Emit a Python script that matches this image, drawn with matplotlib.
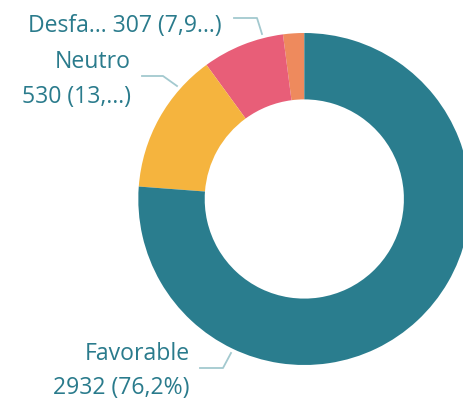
import matplotlib.pyplot as plt

# data
categories = ["Otro", "Desfavorable", "Neutro", "Favorable"]
counts = [79, 307, 530, 2932]
colors = ["#ee8a5d", "#e85e78", "#f5b43e", "#2a7d8e"]

TEXT_COLOR = "#2a7b8c"
LINE_COLOR = "#a3c9cf"
W, H = 464, 401


def y(px):
    # image rows (top-down) to axis coords (bottom-up)
    return H - px


fig = plt.figure(figsize=(W / 100, H / 100), dpi=100)
ax = fig.add_axes([0, 0, 1, 1])

# 1: donut
ax.pie(
    counts,
    colors=colors,
    startangle=90,
    counterclock=True,
    center=(304.3, y(199)),
    radius=166,
    wedgeprops=dict(width=0.4 * 166, linewidth=0),
)

# pie() resets the limits, so set them afterwards
ax.set_xlim(0, W)
ax.set_ylim(0, H)
ax.set_aspect("equal")
ax.axis("off")

# 2: labels with leader lines
font = dict(family="Open Sans", fontsize=16.6, color=TEXT_COLOR, ha="right", va="baseline")

ax.text(222, y(32), "Desfa… 307 (7,9…)", **font)
ax.plot([234, 257, 262], [y(18), y(18), y(34)], color=LINE_COLOR, lw=1.3)

ax.text(131, y(68), "Neutro", **font)
ax.text(131, y(103), "530 (13,…)", **font)
ax.plot([142, 163, 177], [y(76), y(76), y(86)], color=LINE_COLOR, lw=1.3)

ax.text(190, y(360), "Favorable", **font)
ax.text(190, y(394), "2932 (76,2%)", **font)
ax.plot([200, 223, 231], [y(368), y(368), y(353)], color=LINE_COLOR, lw=1.3)

plt.savefig("out.png", dpi=100)
plt.close(fig)
